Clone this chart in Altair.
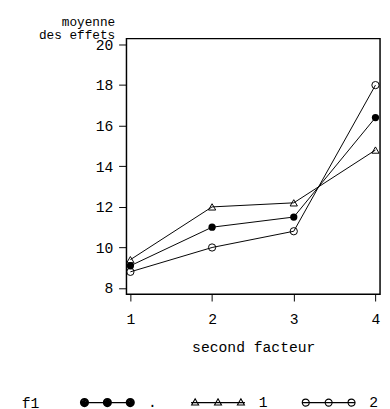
import altair as alt
import pandas as pd

x_levels = [1, 2, 3, 4]
groups = [".", "1", "2"]
means_dot = [9.1, 11.0, 11.5, 16.4]
means_1 = [9.4, 12.0, 12.2, 14.8]
means_2 = [8.8, 10.0, 10.8, 18.0]
y_ticks = [8, 10, 12, 14, 16, 18, 20]

rows = []
for g, vals in zip(groups, [means_dot, means_1, means_2]):
    for xv, yv in zip(x_levels, vals):
        rows.append({"facteur": xv, "moyenne": yv, "f1": g})
df = pd.DataFrame(rows)

FONT = "Liberation Mono"
FS = 15


def circ(cx, r):
    return f"M{cx - r},0A{r},{r} 0 1 0 {cx + r},0A{r},{r} 0 1 0 {cx - r},0Z"


def disk(cx, r):
    # concentric stroked rings that read as a filled dot
    return "".join(circ(cx, r * k) for k in (1.0, 0.75, 0.5, 0.25, 0.05))


def tri(cx, r):
    return f"M{cx},{-r * 1.1}L{cx + r},{r * 0.7}L{cx - r},{r * 0.7}Z"


centers = [-0.85, 0, 0.85]
line_path = "M-1,0L1,0"
path_filled = line_path + "".join(disk(c, 0.15) for c in centers)
path_tri = line_path + "".join(tri(c, 0.13) for c in centers)
path_open = line_path + "".join(circ(c, 0.13) for c in centers)

xscale = alt.Scale(domain=[0.952, 4.056], nice=False, zero=False)
yscale = alt.Scale(domain=[7.70, 20.29], nice=False, zero=False)

xenc = alt.X(
    "facteur:Q",
    scale=xscale,
    axis=alt.Axis(
        values=x_levels,
        title="second facteur",
        format="d",
        domain=False,
        grid=False,
        ticks=True,
        tickColor="black",
        tickWidth=1,
        tickSize=7,
        labelPadding=11,
        titlePadding=14,
    ),
)
yenc = alt.Y(
    "moyenne:Q",
    scale=yscale,
    axis=alt.Axis(
        values=y_ticks,
        title=["moyenne", "des effets"],
        domain=False,
        grid=False,
        ticks=True,
        tickColor="black",
        tickWidth=1,
        tickSize=8,
        labelPadding=6,
        titleAngle=0,
        titleAlign="right",
        titleBaseline="alphabetic",
        titleFontSize=13,
        titleLineHeight=13,
        titleX=-12,
        titleY=-13,
    ),
)

base = alt.Chart(df)

lines = base.mark_line(color="black", strokeWidth=1).encode(
    x=xenc, y=yenc, detail="f1:N"
)

filled_pts = base.transform_filter(alt.datum.f1 == ".").mark_point(
    filled=True, shape="circle", size=55, color="black", opacity=1
).encode(x="facteur:Q", y="moyenne:Q")

open_pts = base.transform_filter(alt.datum.f1 != ".").mark_point(
    filled=False, size=55, color="black", strokeWidth=1, opacity=1
).encode(
    x="facteur:Q",
    y="moyenne:Q",
    shape=alt.Shape(
        "f1:N",
        scale=alt.Scale(domain=["1", "2"], range=["triangle-up", "circle"]),
        legend=None,
    ),
)

legend_layer = base.mark_point(filled=False, opacity=0, color="black").encode(
    x="facteur:Q",
    y="moyenne:Q",
    shape=alt.Shape(
        "f1:N",
        scale=alt.Scale(domain=groups, range=[path_filled, path_tri, path_open]),
        legend=alt.Legend(
            title="f1",
            orient="none",
            legendX=-107,
            legendY=343,
            direction="horizontal",
            titleOrient="left",
            titleAnchor="middle",
            titleBaseline="line-top",
            titleLineHeight=24,
            titleFont=FONT,
            titleFontSize=FS,
            titleFontWeight="normal",
            titleColor="black",
            titlePadding=40,
            labelFont=FONT,
            labelFontSize=FS,
            labelColor="black",
            labelOffset=13,
            columnPadding=31,
            symbolSize=3025,
            symbolOpacity=1,
            symbolFillColor="transparent",
            symbolStrokeColor="black",
            symbolStrokeWidth=1.1,
        ),
    ),
)

chart = (
    alt.layer(lines, filled_pts, open_pts, legend_layer)
    .resolve_scale(shape="independent")
    .properties(
        width=259,
        height=261,
        background="white",
        autosize=alt.AutoSizeParams(type="none"),
        padding={"left": 121, "top": 27, "right": 2, "bottom": 113},
    )
    .configure_view(stroke="black", strokeWidth=1.5)
    .configure_axis(
        labelFont=FONT,
        labelFontSize=FS,
        labelColor="black",
        titleFont=FONT,
        titleFontSize=FS,
        titleFontWeight="normal",
        titleColor="black",
    )
)

chart.save("out.html", embed_options={"renderer": "svg", "actions": False})
